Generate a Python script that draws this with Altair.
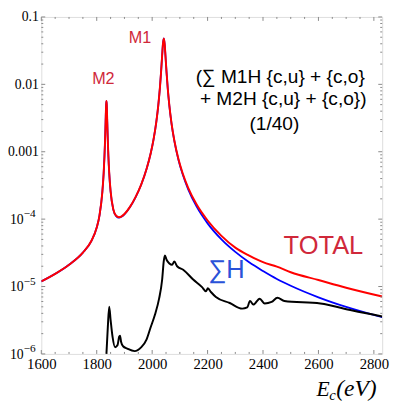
import altair as alt
import pandas as pd

# ---------------- data ----------------
# TOTAL (red)
red_E = [1600, 1650, 1700, 1750, 1780, 1800, 1810, 1820, 1825, 1828, 1830, 1832, 1834, 1835,
         1836, 1838, 1840, 1842, 1845, 1850, 1860, 1870, 1880, 1890, 1900, 1920, 1940, 1960,
         1980, 1995, 2005, 2015, 2022, 2028, 2032, 2036, 2039, 2042, 2045, 2048, 2052, 2056,
         2062, 2070, 2080, 2095, 2110, 2130, 2160, 2200, 2250, 2300, 2350, 2400, 2450, 2500,
         2600, 2700, 2830]
red_v = [1.19e-5, 1.54e-5, 2.10e-5, 3.18e-5, 4.69e-5, 7.5e-5, 1.14e-4, 2.46e-4, 4.8e-4, 8.7e-4,
         1.46e-3, 2.76e-3, 5.0e-3, 5.65e-3, 5.05e-3, 2.76e-3, 1.46e-3, 8.7e-4, 4.9e-4, 2.6e-4,
         1.39e-4, 1.12e-4, 1.07e-4, 1.10e-4, 1.19e-4, 1.52e-4, 2.12e-4, 3.22e-4, 5.59e-4,
         9.6e-4, 1.525e-3, 2.785e-3, 4.85e-3, 8.95e-3, 1.49e-2, 2.66e-2, 4.0e-2, 4.8e-2,
         4.0e-2, 2.66e-2, 1.49e-2, 8.97e-3, 4.86e-3, 2.62e-3, 1.47e-3, 7.75e-4, 4.80e-4,
         2.92e-4, 1.66e-4, 9.55e-5, 5.65e-5, 3.78e-5, 2.88e-5, 2.30e-5, 1.97e-5, 1.63e-5,
         1.25e-5, 9.6e-6, 7.1e-6]

# Sum H (blue)
blue_E = [1600, 1700, 1750, 1780, 1800, 1810, 1820, 1825, 1828, 1830, 1832, 1834, 1835, 1836,
          1838, 1840, 1842, 1845, 1850, 1860, 1870, 1880, 1890, 1900, 1920, 1940, 1960, 1980,
          1995, 2005, 2015, 2022, 2028, 2032, 2036, 2039, 2042, 2045, 2048, 2052, 2056, 2062,
          2070, 2080, 2095, 2110, 2130, 2160, 2200, 2250, 2300, 2350, 2400, 2450, 2500, 2600,
          2700, 2830]
blue_v = [1.19e-5, 2.10e-5, 3.18e-5, 4.69e-5, 7.5e-5, 1.14e-4, 2.46e-4, 4.8e-4, 8.7e-4, 1.46e-3,
          2.76e-3, 5.0e-3, 5.65e-3, 5.05e-3, 2.76e-3, 1.46e-3, 8.7e-4, 4.85e-4, 2.57e-4,
          1.37e-4, 1.11e-4, 1.05e-4, 1.09e-4, 1.18e-4, 1.51e-4, 2.11e-4, 3.21e-4, 5.57e-4,
          9.56e-4, 1.52e-3, 2.78e-3, 4.84e-3, 8.94e-3, 1.49e-2, 2.66e-2, 4.0e-2, 4.8e-2,
          4.0e-2, 2.66e-2, 1.49e-2, 8.94e-3, 4.84e-3, 2.6e-3, 1.446e-3, 7.55e-4, 4.62e-4,
          2.77e-4, 1.543e-4, 8.65e-5, 5.0e-5, 3.26e-5, 2.29e-5, 1.70e-5, 1.295e-5, 1.027e-5,
          6.92e-6, 4.98e-6, 3.5e-6]

# (Sum M1H ... )(1/40) (black)
blk_E = [1835, 1840, 1845, 1850, 1857, 1866, 1875, 1881, 1884, 1888, 1895, 1910, 1937, 1960,
         1980, 1994, 2010, 2025, 2036, 2042, 2046, 2052, 2062, 2072, 2080, 2090, 2113, 2148,
         2180, 2194, 2201, 2212, 2230, 2280, 2325, 2343, 2353, 2365, 2388, 2406, 2431, 2452,
         2477, 2607, 2723, 2830]
blk_v = [1.0e-6, 2.5e-6, 5.0e-6, 3.2e-6, 1.8e-6, 1.26e-6, 1.35e-6, 1.8e-6, 1.86e-6, 1.5e-6,
         1.3e-6, 1.2e-6, 1.1e-6, 1.25e-6, 1.65e-6, 2.45e-6, 3.8e-6, 6.6e-6, 1.26e-5, 2.4e-5,
         2.9e-5, 2.5e-5, 2.2e-5, 2.1e-5, 2.35e-5, 2.0e-5, 1.76e-5, 1.27e-5, 9.8e-6, 8.5e-6,
         9.4e-6, 8.3e-6, 7.0e-6, 5.7e-6, 4.7e-6, 4.9e-6, 6.1e-6, 5.4e-6, 6.6e-6, 5.6e-6,
         5.9e-6, 6.8e-6, 6.1e-6, 5.6e-6, 4.4e-6, 3.6e-6]

x_major = [1600, 1800, 2000, 2200, 2400, 2600, 2800]
x_minor = [1650, 1700, 1750, 1850, 1900, 1950, 2050, 2100, 2150, 2250, 2300, 2350,
           2450, 2500, 2550, 2650, 2700, 2750]
y_major = [1e-6, 1e-5, 1e-4, 1e-3, 1e-2, 1e-1]
y_minor = [m * 10.0 ** k for k in range(-6, -1) for m in range(2, 10)]
pow_vals = [1e-4, 1e-5, 1e-6]
pow_exp = ["\u22124", "\u22125", "\u22126"]

# annotations (placed in data coordinates)
ann_red_t = ["M2", "M1"]
ann_red_E = [1824, 1956]
ann_red_v = [0.0119, 0.0484]
ann_blk_t = ["(\u2211 M1H {c,u} + {c,o}", "+ M2H {c,u} + {c,o})", "(1/40)"]
ann_blk_E = [2462, 2473, 2441]
ann_blk_v = [0.01294, 0.00605, 0.00257]

W, H = 348, 344
FRAME = "#888888"
SERIF = "Liberation Serif, Times New Roman, serif"
SANS = "Liberation Sans, Arial, Helvetica, sans-serif"

xs = alt.Scale(domain=[1600, 2830], nice=False, zero=False)
ys = alt.Scale(type="log", domain=[1e-6, 0.1], nice=False)

xaxis = alt.Axis(values=x_major, format="d", ticks=False, domain=False, grid=False,
                 labelFont=SERIF, labelFontSize=15, labelColor="black",
                 labelPadding=3, labelFlush=False, labelOverlap=False, title=None)
yaxis = alt.Axis(values=y_major, ticks=False, domain=False, grid=False,
                 labelExpr="datum.value > 0.05 ? '0.1' : datum.value > 0.005 ? '0.01' : datum.value > 0.0005 ? '0.001' : ''",
                 labelFont=SERIF, labelFontSize=14, labelColor="black",
                 labelPadding=3, labelFlush=False, labelOverlap=False, title=None)

X = alt.X("E:Q", scale=xs, axis=xaxis)
Y = alt.Y("v:Q", scale=ys, axis=yaxis)

df_red = pd.DataFrame({"E": red_E, "v": red_v})
df_blue = pd.DataFrame({"E": blue_E, "v": blue_v})
df_blk = pd.DataFrame({"E": blk_E, "v": blk_v})

blue = alt.Chart(df_blue).mark_line(color="#0000ff", strokeWidth=1.8, interpolate="monotone", clip=True).encode(x=X, y=Y)
red = alt.Chart(df_red).mark_line(color="#ff0000", strokeWidth=2, interpolate="monotone", clip=True).encode(x=X, y=Y)
blk = alt.Chart(df_blk).mark_line(color="#000000", strokeWidth=2, interpolate="monotone", clip=True).encode(x=X, y=Y)

dxM = pd.DataFrame({"E": x_major})
dxm = pd.DataFrame({"E": x_minor})
dyM = pd.DataFrame({"v": y_major})
dym = pd.DataFrame({"v": y_minor})

def xt(df, y0, y1):
    return alt.Chart(df).mark_rule(color=FRAME, strokeWidth=1).encode(x=X, y=alt.value(y0), y2=alt.value(y1))

def yt(df, x0, x1):
    return alt.Chart(df).mark_rule(color=FRAME, strokeWidth=1).encode(y=Y, x=alt.value(x0), x2=alt.value(x1))

ticks = [xt(dxM, H, H - 4), xt(dxM, 0, 4), xt(dxm, H, H - 2), xt(dxm, 0, 2),
         yt(dyM, 0, 4), yt(dyM, W, W - 4), yt(dym, 0, 2), yt(dym, W, W - 2)]

dpow = pd.DataFrame({"v": pow_vals, "e": pow_exp})
pow_base = alt.Chart(dpow).mark_text(text="10", align="right", baseline="middle", font=SERIF,
                                     fontSize=14, color="black", dy=1).encode(y=Y, x=alt.value(-18))
pow_sup = alt.Chart(dpow).mark_text(align="left", baseline="middle", font=SERIF,
                                    fontSize=11.5, color="black", dy=-5).encode(y=Y, x=alt.value(-18), text="e:N")

d_red_t = pd.DataFrame({"E": ann_red_E, "v": ann_red_v, "t": ann_red_t})
t_red = alt.Chart(d_red_t).mark_text(font=SANS, fontSize=16.5, color="#d0283a",
                                     align="center", baseline="middle").encode(x=X, y=Y, text="t:N")
d_blk_t = pd.DataFrame({"E": ann_blk_E, "v": ann_blk_v, "t": ann_blk_t})
t_blk = alt.Chart(d_blk_t).mark_text(font=SANS, fontSize=19.5, color="black",
                                     align="center", baseline="middle").encode(x=X, y=Y, text="t:N")
d_total = pd.DataFrame({"E": [2618], "v": [3.95e-5], "t": ["TOTAL"]})
t_total = alt.Chart(d_total).mark_text(font=SANS, fontSize=26, color="#d0283a",
                                       align="center", baseline="middle").encode(x=X, y=Y, text="t:N")
d_sh = pd.DataFrame({"E": [2268], "v": [1.76e-5], "t": ["\u2211H"]})
t_sh = alt.Chart(d_sh).mark_text(font=SANS, fontSize=26, color="#2a52d8",
                                 align="center", baseline="middle").encode(x=X, y=Y, text="t:N")

one = pd.DataFrame({"a": [0]})
tE = alt.Chart(one).mark_text(text="E", font=SERIF, fontStyle="italic", fontSize=22,
                              align="left", baseline="alphabetic", color="black").encode(x=alt.value(281), y=alt.value(387))
tc = alt.Chart(one).mark_text(text="c", font=SERIF, fontStyle="italic", fontSize=15,
                              align="left", baseline="alphabetic", color="black").encode(x=alt.value(294), y=alt.value(391))
teV = alt.Chart(one).mark_text(text="(eV)", font=SERIF, fontStyle="italic", fontSize=24,
                               align="left", baseline="alphabetic", color="black").encode(x=alt.value(301), y=alt.value(387))

chart = alt.layer(blue, red, blk, *ticks, pow_base, pow_sup, t_red, t_blk, t_total, t_sh, tE, tc, teV).properties(
    width=W, height=H,
    autosize=alt.AutoSizeParams(type="none"),
    padding={"left": 34, "top": 5, "right": 9, "bottom": 48},
).configure_view(stroke=FRAME, strokeWidth=1).configure(background="white")

chart.save("out.html", embed_options={"renderer": "svg", "actions": False})
